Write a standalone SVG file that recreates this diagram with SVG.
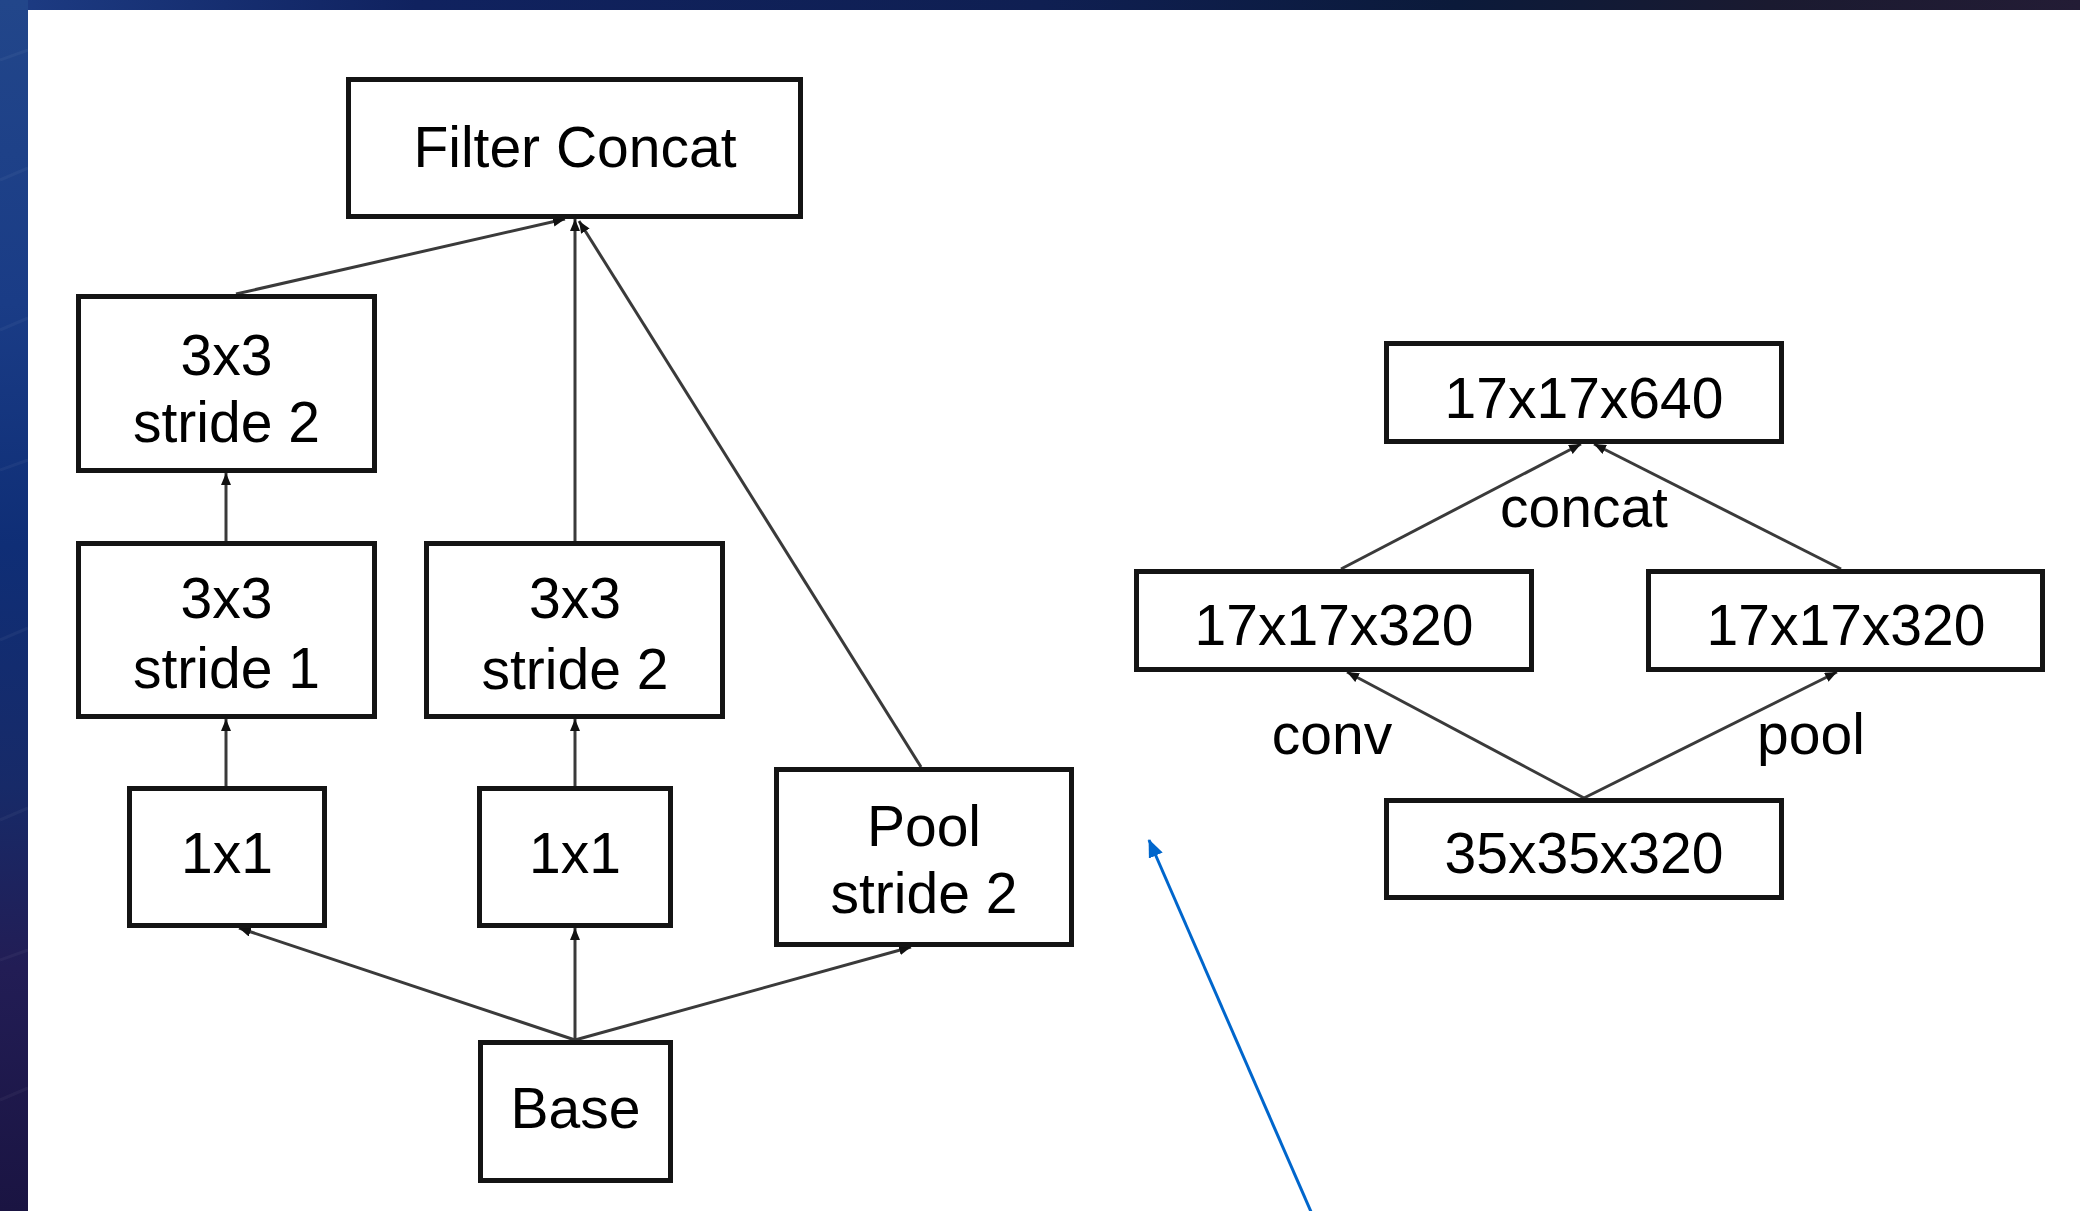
<svg xmlns="http://www.w3.org/2000/svg" width="2080" height="1211" viewBox="0 0 2080 1211">
  <defs>
    <linearGradient id="bandTop" x1="0" y1="0" x2="1" y2="0">
      <stop offset="0" stop-color="#1d3c84"/>
      <stop offset="0.2" stop-color="#10225f"/>
      <stop offset="0.5" stop-color="#0f1f52"/>
      <stop offset="0.7" stop-color="#0b1a3a"/>
      <stop offset="0.85" stop-color="#1a1a30"/>
      <stop offset="1" stop-color="#231c35"/>
    </linearGradient>
    <linearGradient id="bandLeft" x1="0" y1="0" x2="0" y2="1">
      <stop offset="0" stop-color="#22468a"/>
      <stop offset="0.25" stop-color="#1a3c86"/>
      <stop offset="0.45" stop-color="#0f2e76"/>
      <stop offset="0.65" stop-color="#172a68"/>
      <stop offset="0.8" stop-color="#221d55"/>
      <stop offset="1" stop-color="#1a1442"/>
    </linearGradient>
    <marker id="arrow" markerUnits="userSpaceOnUse" markerWidth="12" markerHeight="10" refX="12" refY="5" orient="auto">
      <path d="M0,0 L12,5 L0,10 z" fill="#111"/>
    </marker>
    <marker id="blueArrow" markerUnits="userSpaceOnUse" markerWidth="18" markerHeight="15" refX="17" refY="7.5" orient="auto">
      <path d="M0,0 L18,7.5 L0,15 z" fill="#0066cc"/>
    </marker>
  </defs>
  <style>
    .box { fill: #ffffff; stroke: #141414; stroke-width: 5; }
    .lbl { font-family: "Liberation Sans", Arial, sans-serif; font-size: 57px; fill: #000; text-anchor: middle; }
    .edge { stroke: #3a3a3a; stroke-width: 3; fill: none; marker-end: url(#arrow); }
  </style>

  <!-- slide frame -->
  <rect x="0" y="0" width="2080" height="1211" fill="#ffffff"/>
  <rect x="0" y="0" width="2080" height="10" fill="url(#bandTop)"/>
  <rect x="0" y="0" width="28" height="1211" fill="url(#bandLeft)"/>
  <g stroke="#ffffff" stroke-opacity="0.045" stroke-width="3">
    <line x1="0" y1="60" x2="28" y2="50"/>
    <line x1="0" y1="180" x2="28" y2="168"/>
    <line x1="0" y1="330" x2="28" y2="318"/>
    <line x1="0" y1="470" x2="28" y2="460"/>
    <line x1="0" y1="640" x2="28" y2="628"/>
    <line x1="0" y1="820" x2="28" y2="808"/>
    <line x1="0" y1="960" x2="28" y2="950"/>
    <line x1="0" y1="1100" x2="28" y2="1088"/>
  </g>

  <!-- connectors -->
  <g id="connectors">
    <line class="edge" x1="236" y1="294" x2="565" y2="219"/>
    <line class="edge" x1="575" y1="541" x2="575" y2="219"/>
    <line class="edge" x1="921" y1="767" x2="579" y2="221"/>
    <line class="edge" x1="226" y1="541" x2="226" y2="473"/>
    <line class="edge" x1="226" y1="786" x2="226" y2="719"/>
    <line class="edge" x1="575" y1="786" x2="575" y2="719"/>
    <line class="edge" x1="575" y1="1040" x2="239" y2="928"/>
    <line class="edge" x1="575" y1="1040" x2="575" y2="928"/>
    <line class="edge" x1="575" y1="1040" x2="911" y2="947"/>

    <line class="edge" x1="1341" y1="569" x2="1581" y2="444"/>
    <line class="edge" x1="1841" y1="569" x2="1594" y2="444"/>
    <line class="edge" x1="1584" y1="798" x2="1347" y2="672"/>
    <line class="edge" x1="1584" y1="798" x2="1837" y2="672"/>

    <line x1="1312" y1="1214" x2="1149" y2="840" stroke="#0066cc" stroke-width="3" marker-end="url(#blueArrow)"/>
  </g>

  <!-- left module -->
  <g id="filter-concat">
    <rect class="box" x="348.5" y="79.5" width="452" height="137"/>
    <text class="lbl" x="575" y="167">Filter Concat</text>
  </g>
  <g id="conv3x3-s2-a">
    <rect class="box" x="78.5" y="296.5" width="296" height="174"/>
    <text class="lbl" x="226.5" y="375">3x3</text>
    <text class="lbl" x="226.5" y="442">stride 2</text>
  </g>
  <g id="conv3x3-s1">
    <rect class="box" x="78.5" y="543.5" width="296" height="173"/>
    <text class="lbl" x="226.5" y="618">3x3</text>
    <text class="lbl" x="226.5" y="688">stride 1</text>
  </g>
  <g id="conv3x3-s2-b">
    <rect class="box" x="426.5" y="543.5" width="296" height="173"/>
    <text class="lbl" x="575" y="618">3x3</text>
    <text class="lbl" x="575" y="689">stride 2</text>
  </g>
  <g id="conv1x1-a">
    <rect class="box" x="129.5" y="788.5" width="195" height="137"/>
    <text class="lbl" x="227" y="873">1x1</text>
  </g>
  <g id="conv1x1-b">
    <rect class="box" x="479.5" y="788.5" width="191" height="137"/>
    <text class="lbl" x="575" y="873">1x1</text>
  </g>
  <g id="pool">
    <rect class="box" x="776.5" y="769.5" width="295" height="175"/>
    <text class="lbl" x="924" y="846">Pool</text>
    <text class="lbl" x="924" y="913">stride 2</text>
  </g>
  <g id="base">
    <rect class="box" x="480.5" y="1042.5" width="190" height="138"/>
    <text class="lbl" x="575.5" y="1128">Base</text>
  </g>

  <!-- right module -->
  <g id="out-17x17x640">
    <rect class="box" x="1386.5" y="343.5" width="395" height="98"/>
    <text class="lbl" x="1584" y="418">17x17x640</text>
  </g>
  <g id="conv-17x17x320">
    <rect class="box" x="1136.5" y="571.5" width="395" height="98"/>
    <text class="lbl" x="1334" y="645">17x17x320</text>
  </g>
  <g id="pool-17x17x320">
    <rect class="box" x="1648.5" y="571.5" width="394" height="98"/>
    <text class="lbl" x="1846" y="645">17x17x320</text>
  </g>
  <g id="in-35x35x320">
    <rect class="box" x="1386.5" y="800.5" width="395" height="97"/>
    <text class="lbl" x="1584" y="873">35x35x320</text>
  </g>

  <!-- edge labels -->
  <g id="edge-labels">
    <text class="lbl" x="1584" y="527">concat</text>
    <text class="lbl" x="1332" y="754">conv</text>
    <text class="lbl" x="1811" y="754">pool</text>
  </g>
</svg>
